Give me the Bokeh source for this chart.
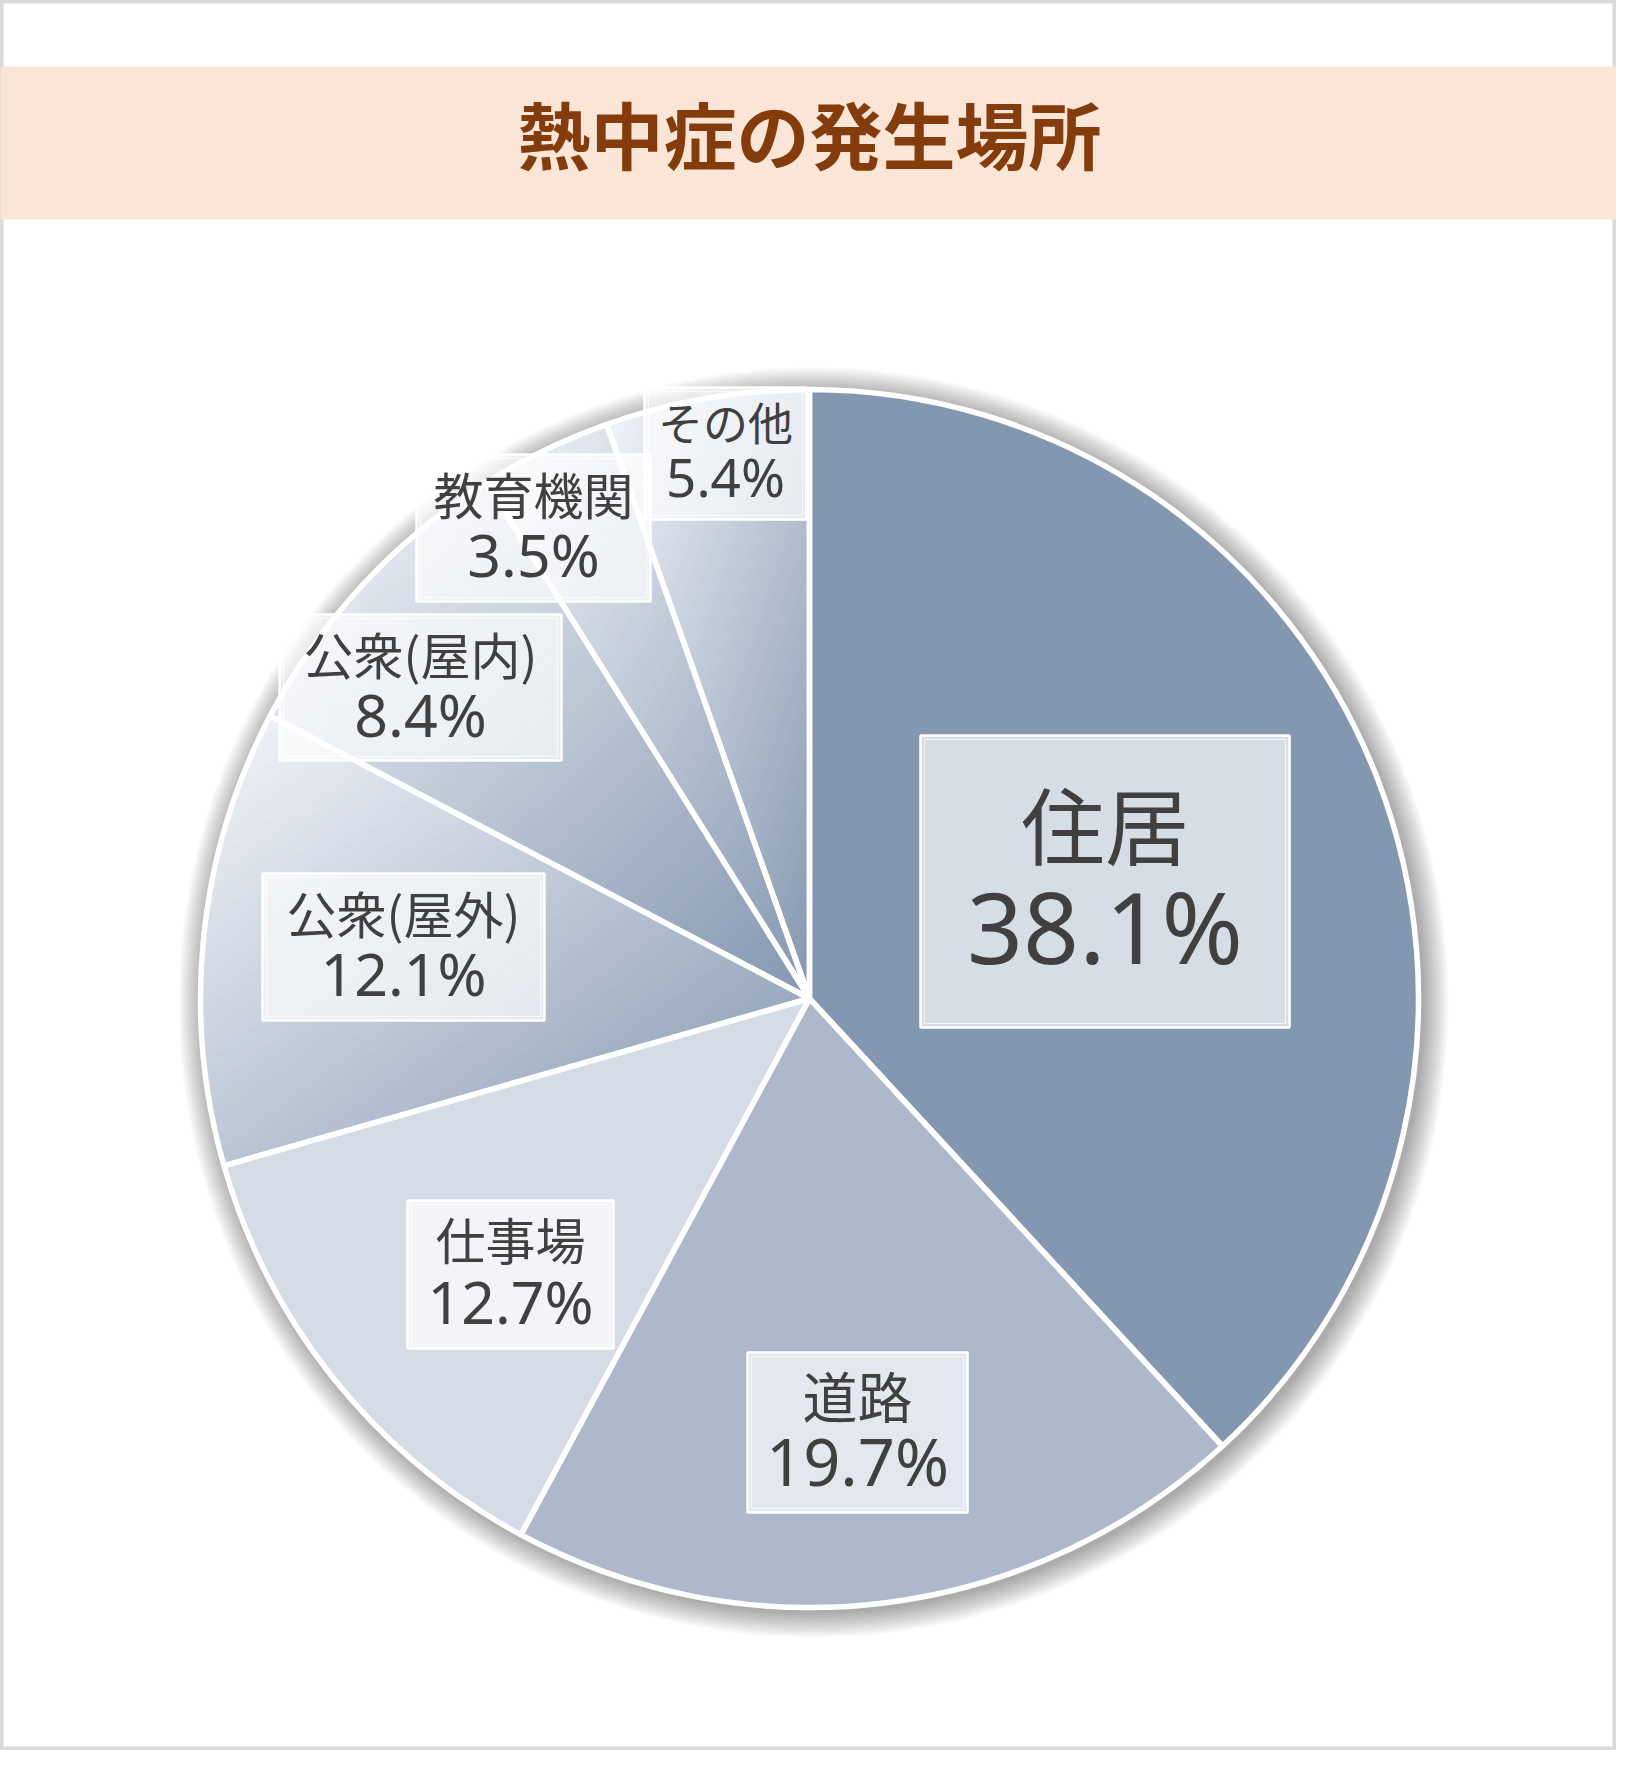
import numpy as np
from bokeh.plotting import figure
from bokeh.models import Range1d, ColumnDataSource
from bokeh.embed import file_html
from bokeh.resources import INLINE
from bokeh.core.properties import value

# ---------------- data ----------------
title_text = "熱中症の発生場所"
categories = ["住居", "道路", "仕事場", "公衆(屋外)", "公衆(屋内)", "教育機関", "その他"]
percent = [38.1, 19.7, 12.7, 12.1, 8.4, 3.5, 5.4]
pct_labels = [f"{v:.1f}%" for v in percent]

# ---------------- styles / layout ----------------
fill_kind = ["#8497b0", "#adb9ca", "#d6dce5", "grad", "grad", "grad", "grad"]
grad_light = (244, 246, 250)
grad_dark = (132, 151, 176)

# label boxes in page pixels: left, top, right, bottom
box_ltrb = [(928, 743, 1297, 1035), (755, 1360, 975, 1520), (415, 1208, 621, 1356),
            (270, 881, 552, 1028), (287, 622, 569, 768), (424, 462, 658, 609),
            (652, 395, 814, 527)]
name_base = [868, 1426, 1268, 942, 683, 523, 449]
pct_base = [978, 1498, 1335, 1007, 748, 588, 508]
name_size = [84, 55, 50, 50, 50, 50, 45]
pct_size = [98, 65, 59, 59, 59, 59, 53]
BASE_FIX = 0.45   # renderer places alphabetic text lower by about this fraction of em

CX, CY = 817, 1006          # pie centre (page pixels)
R = 609
W, H = 1616, 1750

def X(px):
    return px - CX

def Y(py):
    return CY - py

p = figure(width=W, height=H, output_backend="svg", toolbar_location=None,
           x_range=Range1d(X(8), X(8 + W)), y_range=Range1d(Y(8 + H), Y(8)),
           min_border=0, x_axis_location=None, y_axis_location=None)
p.grid.visible = False
p.background_fill_color = "white"
p.border_fill_color = "white"
p.outline_line_color = "#d9d9d9"
p.outline_line_width = 6

# header band and title
p.quad(left=[X(4)], right=[X(1628)], top=[Y(74)], bottom=[Y(227)],
       fill_color="#fbe5d6", line_color=None)
p.text(x=[X(817)], y=[Y(172 - BASE_FIX * 73)], text=[title_text],
       text_font=value("Noto Sans CJK JP"),
       text_font_size="73px", text_font_style="bold", text_color="#843c0c",
       text_align="center", text_baseline="alphabetic")

# soft shadow
radii = [R + k for k in range(2, 28, 2)]
p.circle(x=[4] * len(radii), y=[-4] * len(radii), radius=radii,
         fill_color="black", fill_alpha=0.026, line_color=None)

# angles
total = float(sum(percent))
cum = np.concatenate([[0.0], np.cumsum(percent)]) / total
th1 = cum[:-1] * 2 * np.pi
th2 = cum[1:] * 2 * np.pi
starts = list(np.pi / 2 - th2)
ends = list(np.pi / 2 - th1)

# solid slices
solid = [i for i, k in enumerate(fill_kind) if k != "grad"]
p.wedge(x=0, y=0, radius=R, start_angle=[starts[i] for i in solid],
        end_angle=[ends[i] for i in solid], direction="anticlock",
        fill_color=[fill_kind[i] for i in solid], line_color=None)

# gradient slices (diagonal linear gradient over each slice's bounding box)
def clip_half(poly, g):
    out = []
    n = len(poly)
    for i in range(n):
        P = poly[i]
        Q = poly[(i + 1) % n]
        gp, gq = g(P), g(Q)
        if gp >= 0:
            out.append(P)
        if (gp >= 0) != (gq >= 0):
            t = gp / (gp - gq)
            out.append((P[0] + t * (Q[0] - P[0]), P[1] + t * (Q[1] - P[1])))
    return out

gx, gy, gc = [], [], []
NB = 64
for i, k in enumerate(fill_kind):
    if k != "grad":
        continue
    phis = np.linspace(th1[i], th2[i], 160)
    poly = [(0.0, 0.0)] + [(R * np.sin(f), R * np.cos(f)) for f in phis]
    xs = [q[0] for q in poly]
    ys = [q[1] for q in poly]
    xmin, xmax, ymin, ymax = min(xs), max(xs), min(ys), max(ys)

    def tfun(q, xmin=xmin, xmax=xmax, ymin=ymin, ymax=ymax):
        return ((q[0] - xmin) / (xmax - xmin) + (ymax - q[1]) / (ymax - ymin)) / 2.0

    for b in range(NB):
        lo = b / NB if b > 0 else -0.01
        hi = (b + 1) / NB if b < NB - 1 else 1.01
        part = clip_half(poly, lambda q, lo=lo: tfun(q) - lo)
        if len(part) < 3:
            continue
        part = clip_half(part, lambda q, hi=hi: hi - tfun(q))
        if len(part) < 3:
            continue
        tm = (b + 0.5) / NB
        col = tuple(int(round(grad_light[j] + tm * (grad_dark[j] - grad_light[j]))) for j in range(3))
        gx.append([q[0] for q in part])
        gy.append([q[1] for q in part])
        gc.append("#%02x%02x%02x" % col)

p.patches(xs=gx, ys=gy, fill_color=gc, line_color=gc, line_width=1)

# white slice outlines
p.wedge(x=0, y=0, radius=R, start_angle=starts, end_angle=ends, direction="anticlock",
        fill_color=None, line_color="white", line_width=5.5)

# label boxes
bl = [X(b[0]) for b in box_ltrb]
br = [X(b[2]) for b in box_ltrb]
bt = [Y(b[1]) for b in box_ltrb]
bb = [Y(b[3]) for b in box_ltrb]
p.quad(left=bl, right=br, top=bt, bottom=bb, fill_color="white", fill_alpha=0.67,
       line_color="white", line_width=2.5)
p.quad(left=[v + 4 for v in bl], right=[v - 4 for v in br], top=[v - 4 for v in bt],
       bottom=[v + 4 for v in bb], fill_color=None, line_color="white",
       line_alpha=0.7, line_width=1)

cxs = [X((b[0] + b[2]) / 2.0) for b in box_ltrb]
src_names = ColumnDataSource(dict(
    x=cxs, y=[Y(v - BASE_FIX * s) for v, s in zip(name_base, name_size)],
    text=categories, fs=[f"{s}px" for s in name_size]))
src_pct = ColumnDataSource(dict(
    x=cxs, y=[Y(v - BASE_FIX * s) for v, s in zip(pct_base, pct_size)],
    text=pct_labels, fs=[f"{s}px" for s in pct_size]))
p.text(x="x", y="y", text="text", source=src_names, text_font=value("Noto Sans CJK JP"),
       text_font_size="fs", text_color="#404040", text_align="center",
       text_baseline="alphabetic")
p.text(x="x", y="y", text="text", source=src_pct, text_font=value("Noto Sans"),
       text_font_size="fs", text_color="#404040", text_align="center",
       text_baseline="alphabetic")

open("out.html", "w").write(file_html(p, INLINE))
